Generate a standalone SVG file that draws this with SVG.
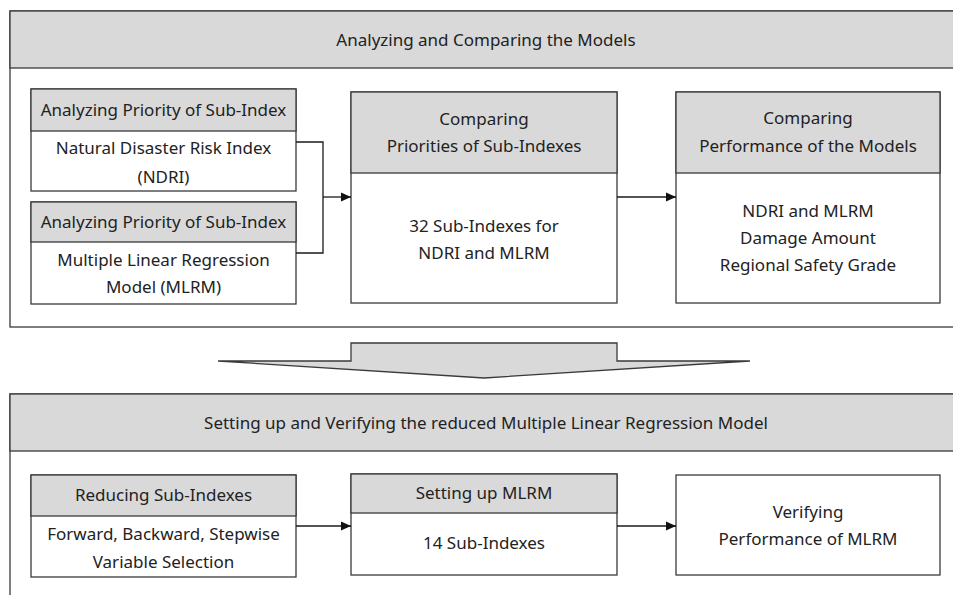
<svg xmlns="http://www.w3.org/2000/svg" width="953" height="595" viewBox="0 0 953 595">
<style>
.box{fill:#fff;stroke:#3a3a3a;stroke-width:1.3}
.hdr{fill:#d9d9d9;stroke:#3a3a3a;stroke-width:1.3}
.ln{fill:none;stroke:#1a1a1a;stroke-width:1.3}
text{font-family:"Noto Sans","Open Sans","Liberation Sans",sans-serif;font-size:17px;fill:#222;text-anchor:middle}
</style>
<defs>
<marker id="ah" markerUnits="userSpaceOnUse" markerWidth="11" markerHeight="10" refX="10" refY="5" orient="auto">
<path d="M0,0.5 L10,5 L0,9.5 z" fill="#111"/>
</marker>
</defs>
<g id="section-top">
<rect class="box" x="10" y="11" width="960" height="316"/>
<rect class="hdr" x="10" y="11" width="960" height="57"/>
<text x="486" y="46">Analyzing and Comparing the Models</text>
</g>
<g id="node-a1">
<rect class="box" x="31" y="89" width="265" height="102"/>
<rect class="hdr" x="31" y="89" width="265" height="42"/>
<text x="163.5" y="116">Analyzing Priority of Sub-Index</text>
<text x="163.5" y="154">Natural Disaster Risk Index</text>
<text x="163.5" y="183">(NDRI)</text>
</g>
<g id="node-a2">
<rect class="box" x="31" y="202" width="265" height="102"/>
<rect class="hdr" x="31" y="202" width="265" height="40"/>
<text x="163.5" y="228">Analyzing Priority of Sub-Index</text>
<text x="163.5" y="266">Multiple Linear Regression</text>
<text x="163.5" y="293">Model (MLRM)</text>
</g>
<g id="node-b">
<rect class="box" x="351" y="92" width="266" height="211"/>
<rect class="hdr" x="351" y="92" width="266" height="81"/>
<text x="484" y="125">Comparing</text>
<text x="484" y="152">Priorities of Sub-Indexes</text>
<text x="484" y="232">32 Sub-Indexes for</text>
<text x="484" y="259">NDRI and MLRM</text>
</g>
<g id="node-c">
<rect class="box" x="676" y="92" width="264" height="211"/>
<rect class="hdr" x="676" y="92" width="264" height="81"/>
<text x="808" y="124">Comparing</text>
<text x="808" y="152">Performance of the Models</text>
<text x="808" y="217">NDRI and MLRM</text>
<text x="808" y="244">Damage Amount</text>
<text x="808" y="271">Regional Safety Grade</text>
</g>
<g id="big-arrow">
<polygon points="351,343 617,343 617,361 750,361 484,378 218,361 351,361" fill="#d9d9d9" stroke="#3a3a3a" stroke-width="1.3" stroke-linejoin="miter"/>
</g>
<g id="section-bottom">
<rect class="box" x="10" y="394" width="960" height="220"/>
<rect class="hdr" x="10" y="394" width="960" height="57"/>
<text x="486" y="429">Setting up and Verifying the reduced Multiple Linear Regression Model</text>
</g>
<g id="node-d">
<rect class="box" x="31" y="475" width="265" height="102"/>
<rect class="hdr" x="31" y="475" width="265" height="41"/>
<text x="163.5" y="501">Reducing Sub-Indexes</text>
<text x="163.5" y="540">Forward, Backward, Stepwise</text>
<text x="163.5" y="568">Variable Selection</text>
</g>
<g id="node-e">
<rect class="box" x="351" y="474" width="266" height="101"/>
<rect class="hdr" x="351" y="474" width="266" height="39"/>
<text x="484" y="499">Setting up MLRM</text>
<text x="484" y="549">14 Sub-Indexes</text>
</g>
<g id="node-f">
<rect class="box" x="676" y="475" width="264" height="100"/>
<text x="808" y="518">Verifying</text>
<text x="808" y="545">Performance of MLRM</text>
</g>
<g id="connectors">
<polyline class="ln" points="296,142 323,142 323,253 296,253"/>
<line class="ln" x1="323" y1="197" x2="351" y2="197" marker-end="url(#ah)"/>
<line class="ln" x1="617" y1="197" x2="676" y2="197" marker-end="url(#ah)"/>
<line class="ln" x1="296" y1="526" x2="351" y2="526" marker-end="url(#ah)"/>
<line class="ln" x1="617" y1="526" x2="676" y2="526" marker-end="url(#ah)"/>
</g>
</svg>
